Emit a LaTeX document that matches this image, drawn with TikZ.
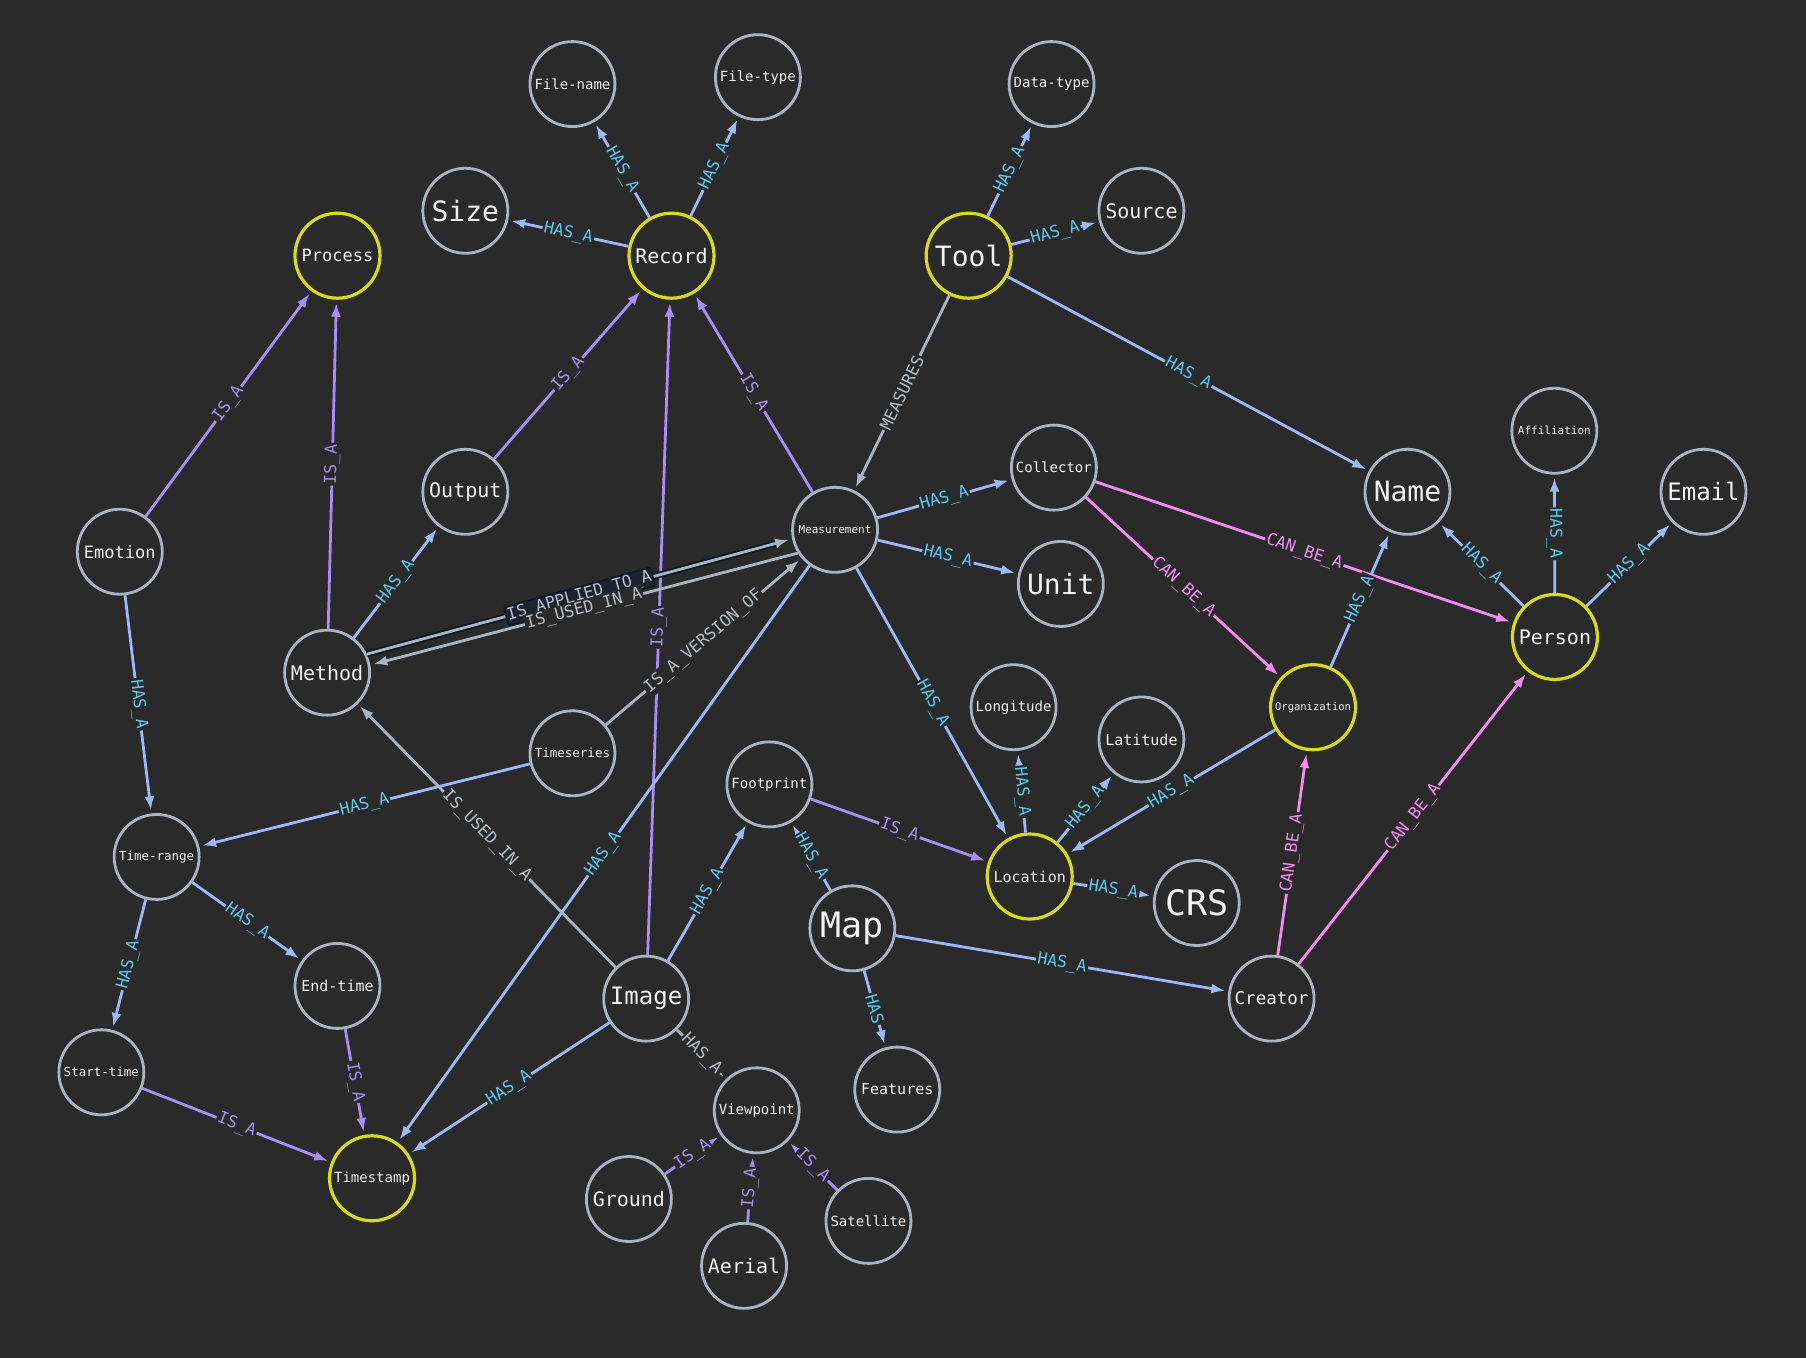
\documentclass[tikz,border=0pt]{standalone}
\usepackage{fontspec}
\setmonofont{DejaVu Sans Mono}
\usetikzlibrary{arrows.meta}
\definecolor{bgc}{HTML}{2A2A2A}
\definecolor{ringgray}{HTML}{A9B4C0}
\definecolor{ringyellow}{HTML}{D9D91E}
\definecolor{nodetext}{HTML}{F2F2F2}
\definecolor{hasline}{HTML}{9DB8F6}
\definecolor{hastext}{HTML}{5CC8EE}
\definecolor{isline}{HTML}{A68EF4}
\definecolor{istext}{HTML}{A68EF4}
\definecolor{canline}{HTML}{F28CEE}
\definecolor{cantext}{HTML}{F28CEE}
\definecolor{miscline}{HTML}{A8B4C0}
\definecolor{misctext}{HTML}{B4BEC8}
\definecolor{selglow}{HTML}{0C1826}
\definecolor{selfill}{HTML}{1C2330}
\tikzset{
  concept/.style={circle, draw=ringgray, line width=2.8pt, fill=bgc, text=nodetext, minimum size=85pt, inner sep=0pt},
  core/.style={concept, draw=ringyellow, line width=3.2pt},
  txt/.style={font=\ttfamily\fontsize{#1pt}{#1pt}\selectfont},
  link/.style={line width=2.8pt, -{Latex[length=14pt,width=10pt]}, shorten >=3pt},
  hasa/.style={link, draw=hasline, every node/.append style={text=hastext}},
  isa/.style={link, draw=isline, every node/.append style={text=istext}},
  canbe/.style={link, draw=canline, every node/.append style={text=cantext}},
  misc/.style={link, draw=miscline, every node/.append style={text=misctext}},
  selected/.style={preaction={draw=selglow, line width=6.5pt}},
  rel/.style={midway, sloped, fill=bgc, inner sep=1.5pt, font=\ttfamily\fontsize{16.5pt}{16.5pt}\selectfont},
  selrel/.style={fill=selfill, draw=selglow, line width=1.5pt, rounded corners=2pt}
}
\begin{document}
\begin{tikzpicture}[x=1.1518pt, y=-1.1518pt]
  \fill[bgc] (0,0) rectangle (1568,1179);
  \useasboundingbox (0,0) rectangle (1568,1179);

  \node[concept, txt=14] (filename) at (497,73) {File-name};
  \node[concept, txt=14] (filetype) at (658,67) {File-type};
  \node[concept, txt=14] (datatype) at (913,73) {Data-type};
  \node[concept, txt=28] (size) at (404,183) {Size};
  \node[core, txt=20] (record) at (583,222) {Record};
  \node[core, txt=17] (process) at (293,222) {Process};
  \node[core, txt=28] (tool) at (841,222) {Tool};
  \node[concept, txt=20] (source) at (991,183) {Source};
  \node[concept, txt=11] (affiliation) at (1349.5,374) {Affiliation};
  \node[concept, txt=24] (email) at (1479,427) {Email};
  \node[concept, txt=28] (name) at (1222,427) {Name};
  \node[concept, txt=20] (output) at (404,427) {Output};
  \node[concept, txt=17] (emotion) at (104,479) {Emotion};
  \node[concept, txt=11] (measurement) at (725,460) {Measurement};
  \node[concept, txt=14] (collector) at (915,406) {Collector};
  \node[concept, txt=28] (unit) at (921,507) {Unit};
  \node[core, txt=20] (person) at (1350,553) {Person};
  \node[concept, txt=20] (method) at (284,584) {Method};
  \node[concept, txt=14] (longitude) at (880,614) {Longitude};
  \node[concept, txt=15] (latitude) at (991,642) {Latitude};
  \node[core, txt=10.5] (organization) at (1140,614) {Organization};
  \node[concept, txt=12.5] (timeseries) at (497,654) {Timeseries};
  \node[concept, txt=14] (footprint) at (668,681) {Footprint};
  \node[concept, txt=12.5] (timerange) at (136,744) {Time-range};
  \node[core, txt=15] (location) at (894,761) {Location};
  \node[concept, txt=35] (crs) at (1039,784) {CRS};
  \node[concept, txt=35] (map) at (740,806) {Map};
  \node[concept, txt=15] (endtime) at (293,856) {End-time};
  \node[concept, txt=24] (image) at (561,867) {Image};
  \node[concept, txt=17.5] (creator) at (1104,867) {Creator};
  \node[concept, txt=12.5] (starttime) at (88,931) {Start-time};
  \node[concept, txt=15] (features) at (779,946) {Features};
  \node[concept, txt=14] (viewpoint) at (657,964) {Viewpoint};
  \node[core, txt=14] (timestamp) at (323,1023) {Timestamp};
  \node[concept, txt=20] (ground) at (546,1041) {Ground};
  \node[concept, txt=14] (satellite) at (754,1060) {Satellite};
  \node[concept, txt=20] (aerial) at (646,1099) {Aerial};

  \draw[hasa] (record) -- node[rel] {HAS\_A} (filename);
  \draw[hasa] (record) -- node[rel] {HAS\_A} (filetype);
  \draw[hasa] (record) -- node[rel] {HAS\_A} (size);
  \draw[hasa] (tool) -- node[rel] {HAS\_A} (datatype);
  \draw[hasa] (tool) -- node[rel] {HAS\_A} (source);
  \draw[hasa] (tool) -- node[rel] {HAS\_A} (name);
  \draw[misc] (tool) -- node[rel] {MEASURES} (measurement);
  \draw[isa] (measurement) -- node[rel] {IS\_A} (record);
  \draw[isa] (output) -- node[rel] {IS\_A} (record);
  \draw[isa] (image) -- node[rel] {IS\_A} (record);
  \draw[isa] (emotion) -- node[rel] {IS\_A} (process);
  \draw[isa] (method) -- node[rel] {IS\_A} (process);
  \draw[hasa] (method) -- node[rel] {HAS\_A} (output);
  \draw[misc, selected] (method.25) -- node[rel, selrel] {IS\_APPLIED\_TO\_A} (measurement.192);
  \draw[misc] (measurement.212) -- node[rel] {IS\_USED\_IN\_A} (method.10);
  \draw[misc] (timeseries) -- node[rel] {IS\_A\_VERSION\_OF} (measurement);
  \draw[misc] (image) -- node[rel] {IS\_USED\_IN\_A} (method);
  \draw[hasa] (measurement) -- node[rel] {HAS\_A} (timestamp);
  \draw[hasa] (measurement) -- node[rel] {HAS\_A} (collector);
  \draw[hasa] (measurement) -- node[rel] {HAS\_A} (unit);
  \draw[hasa] (measurement) -- node[rel] {HAS\_A} (location);
  \draw[canbe] (collector) -- node[rel] {CAN\_BE\_A} (person);
  \draw[canbe] (collector) -- node[rel] {CAN\_BE\_A} (organization);
  \draw[hasa] (person) -- node[rel] {HAS\_A} (name);
  \draw[hasa] (person) -- node[rel] {HAS\_A} (affiliation);
  \draw[hasa] (person) -- node[rel] {HAS\_A} (email);
  \draw[hasa] (organization) -- node[rel] {HAS\_A} (name);
  \draw[hasa] (organization) -- node[rel] {HAS\_A} (location);
  \draw[canbe] (creator) -- node[rel] {CAN\_BE\_A} (organization);
  \draw[canbe] (creator) -- node[rel] {CAN\_BE\_A} (person);
  \draw[hasa] (emotion) -- node[rel] {HAS\_A} (timerange);
  \draw[hasa] (timeseries) -- node[rel] {HAS\_A} (timerange);
  \draw[hasa] (timerange) -- node[rel] {HAS\_A} (endtime);
  \draw[hasa] (timerange) -- node[rel] {HAS\_A} (starttime);
  \draw[isa] (endtime) -- node[rel] {IS\_A} (timestamp);
  \draw[isa] (starttime) -- node[rel] {IS\_A} (timestamp);
  \draw[hasa] (image) -- node[rel] {HAS\_A} (timestamp);
  \draw[hasa] (image) -- node[rel] {HAS\_A} (footprint);
  \draw[misc] (image) -- node[rel] {HAS\_A} (viewpoint);
  \draw[isa] (footprint) -- node[rel] {IS\_A} (location);
  \draw[hasa] (map) -- node[rel] {HAS\_A} (footprint);
  \draw[hasa] (map) -- node[rel] {HAS} (features);
  \draw[hasa] (map) -- node[rel] {HAS\_A} (creator);
  \draw[hasa] (location) -- node[rel] {HAS\_A} (longitude);
  \draw[hasa] (location) -- node[rel] {HAS\_A} (latitude);
  \draw[hasa] (location) -- node[rel] {HAS\_A} (crs);
  \draw[isa] (ground) -- node[rel] {IS\_A} (viewpoint);
  \draw[isa] (aerial) -- node[rel] {IS\_A} (viewpoint);
  \draw[isa] (satellite) -- node[rel] {IS\_A} (viewpoint);
\end{tikzpicture}
\end{document}
